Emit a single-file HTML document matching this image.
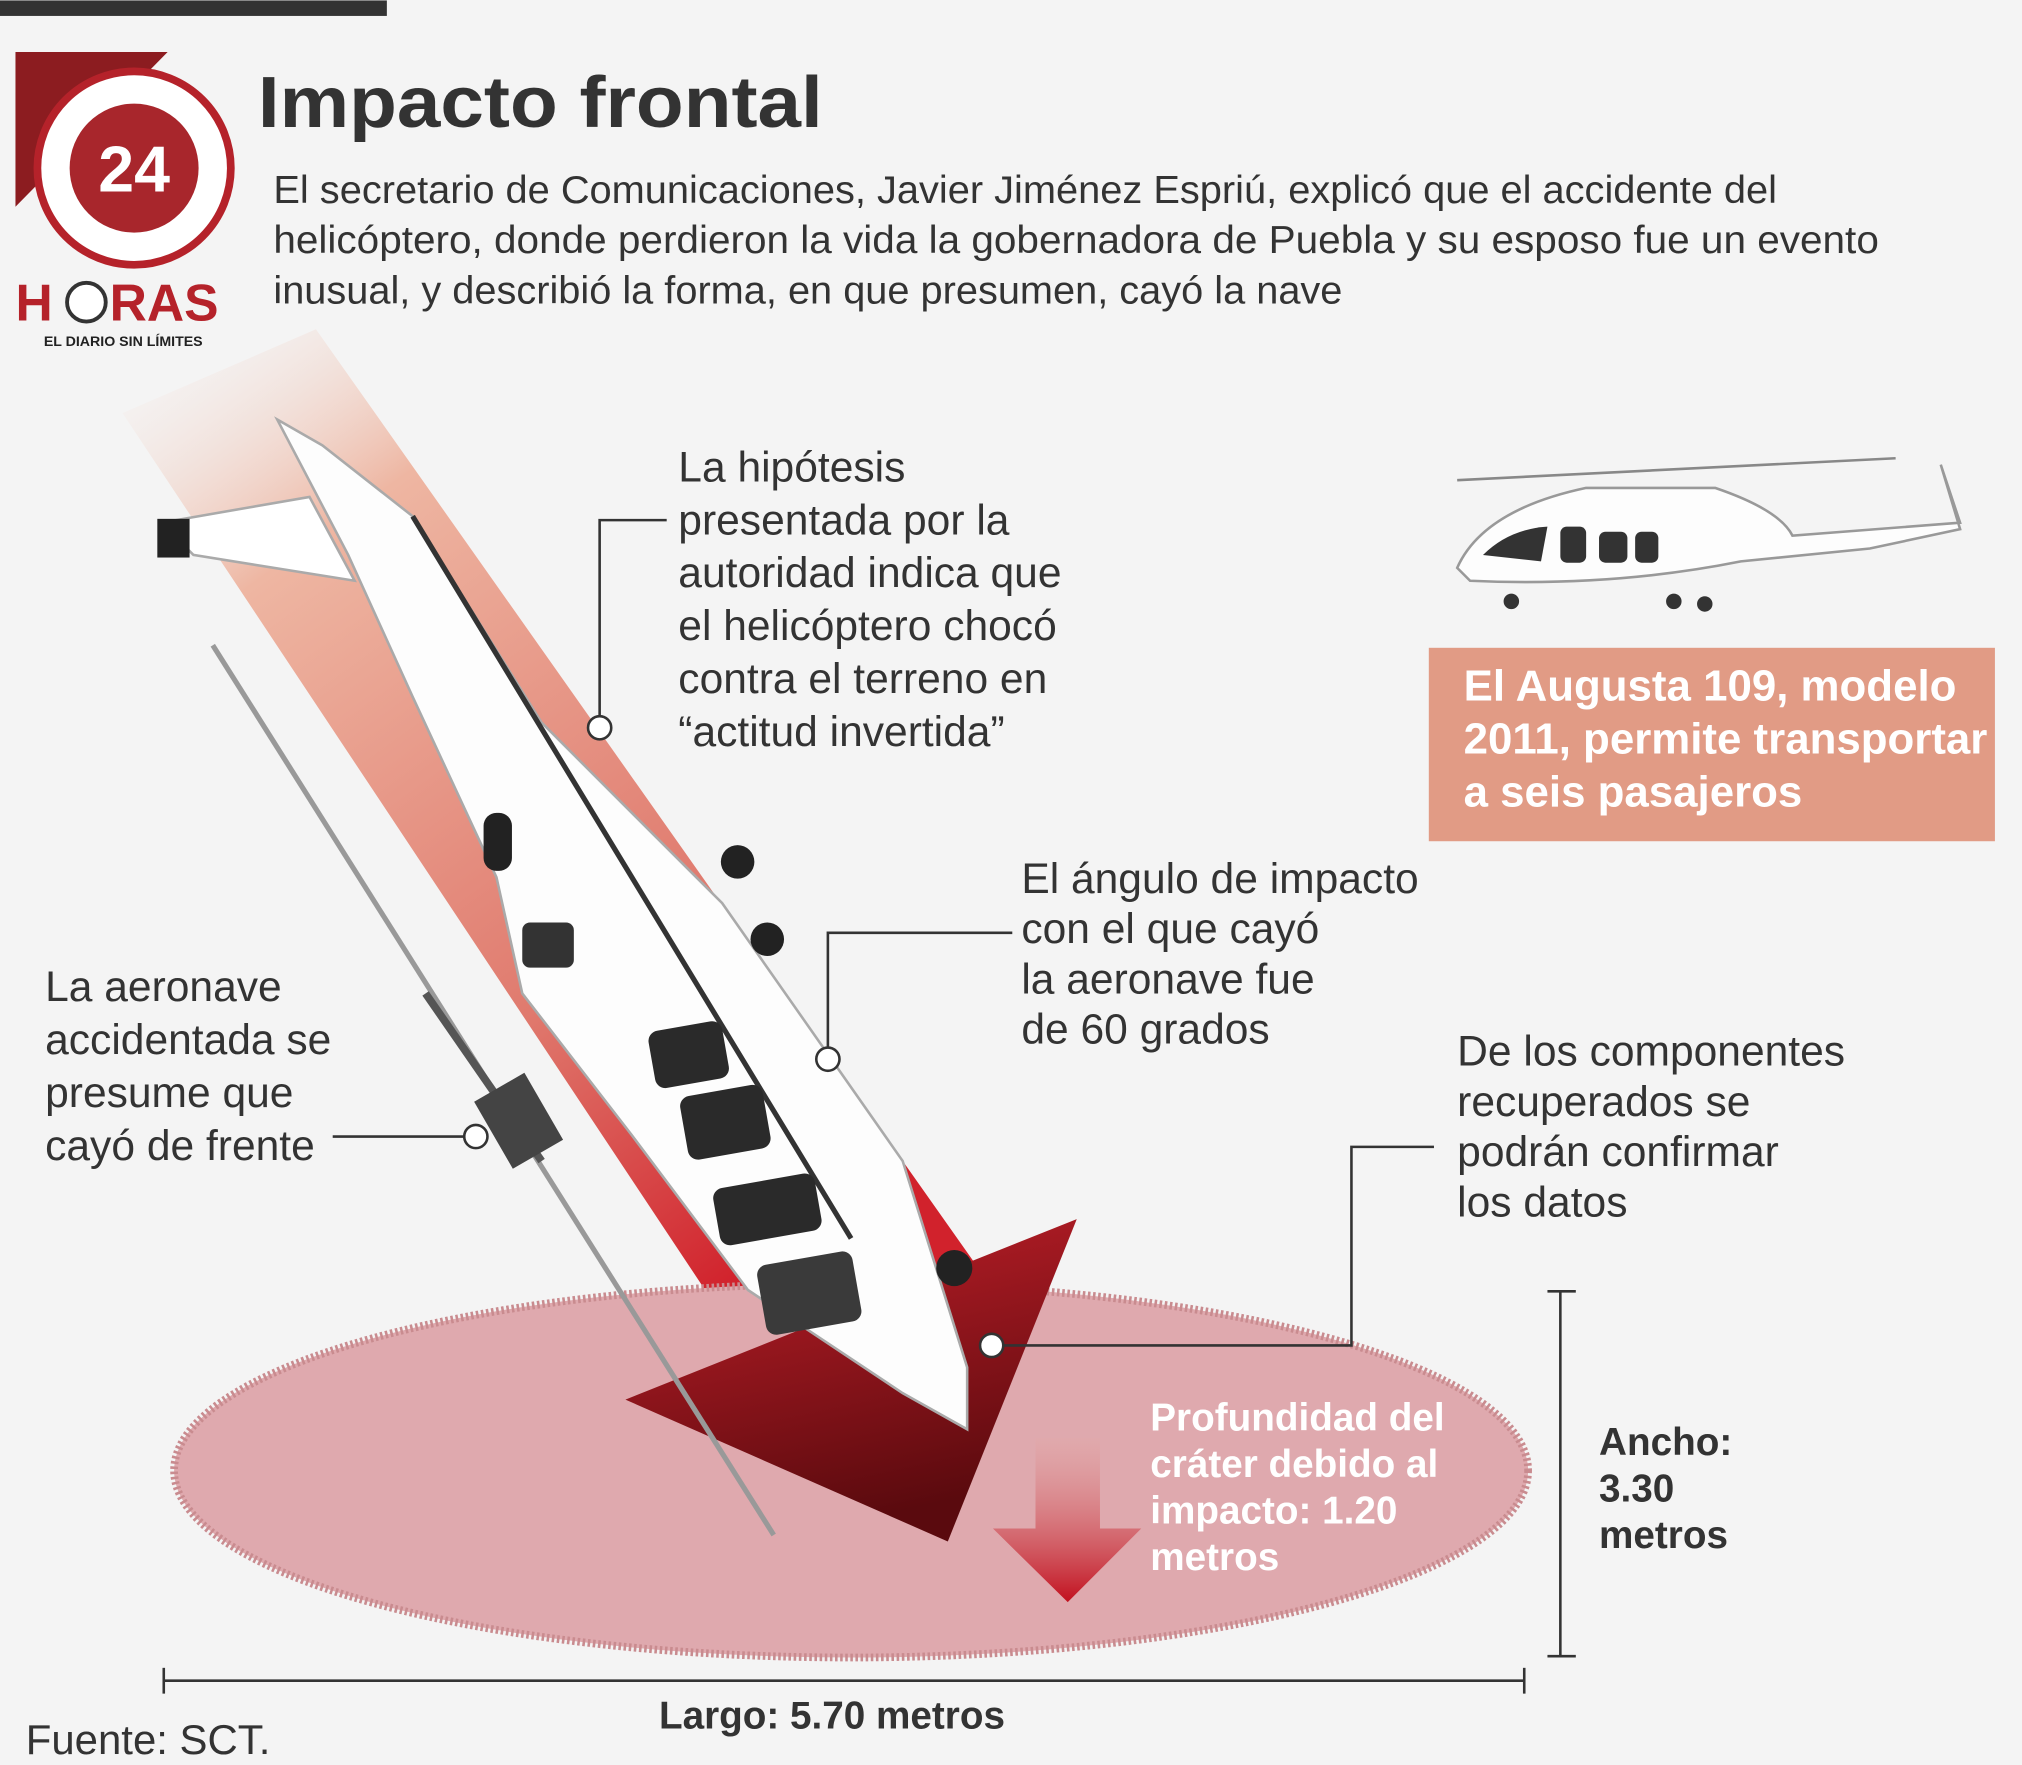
<!DOCTYPE html>
<html><head><meta charset="utf-8"><style>
html,body{margin:0;padding:0;background:#f4f4f4;}
svg{display:block;}
text{font-family:"Liberation Sans",sans-serif;}
</style></head><body>
<svg width="2022" height="1765" viewBox="0 0 1568 1368" xmlns="http://www.w3.org/2000/svg">
<defs>
<linearGradient id="band" x1="0" y1="0" x2="0.6" y2="1">
<stop offset="0" stop-color="#f4f4f4" stop-opacity="0"/>
<stop offset="0.25" stop-color="#eeb6a2"/>
<stop offset="0.7" stop-color="#e07a6e"/>
<stop offset="1" stop-color="#d1222c"/>
</linearGradient>
<linearGradient id="head" x1="0" y1="0" x2="0.3" y2="1">
<stop offset="0" stop-color="#c4202a"/>
<stop offset="1" stop-color="#5a0a0e"/>
</linearGradient>
<linearGradient id="down" x1="0" y1="0" x2="0" y2="1">
<stop offset="0" stop-color="#e3a9a8" stop-opacity="0.3"/>
<stop offset="1" stop-color="#c2101e"/>
</linearGradient>
</defs>
<rect width="1568" height="1368" fill="#f4f4f4"/>
<rect x="0" y="0" width="300" height="12" fill="#333"/>

<!-- logo -->
<polygon points="12,40 130,40 12,160" fill="#8c1c20"/>
<circle cx="104" cy="130" r="75" fill="#fff" stroke="#b5222a" stroke-width="6"/>
<circle cx="104" cy="130" r="50" fill="#a8262c"/>
<text x="104" y="148" font-size="50" font-weight="bold" fill="#fff" text-anchor="middle" font-family="Liberation Serif">24</text>
<text x="12" y="248" font-size="40" font-weight="bold" fill="#b5222a" font-family="Liberation Serif">H</text>
<circle cx="67" cy="234" r="15" fill="#fff" stroke="#333" stroke-width="3"/>
<text x="85" y="248" font-size="40" font-weight="bold" fill="#b5222a" font-family="Liberation Serif">RAS</text>
<text x="34" y="268" font-size="11" font-weight="bold" fill="#222">EL DIARIO SIN LÍMITES</text>

<text x="200" y="98" font-size="56" font-weight="bold" fill="#333" textLength="438" lengthAdjust="spacingAndGlyphs">Impacto frontal</text>
<g font-size="30" fill="#333">
<text x="212" y="157" textLength="1166" lengthAdjust="spacingAndGlyphs">El secretario de Comunicaciones, Javier Jiménez Espriú, explicó que el accidente del</text>
<text x="212" y="196" textLength="1245" lengthAdjust="spacingAndGlyphs">helicóptero, donde perdieron la vida la gobernadora de Puebla y su esposo fue un evento</text>
<text x="212" y="235" textLength="829" lengthAdjust="spacingAndGlyphs">inusual, y describió la forma, en que presumen, cayó la nave</text>
</g>

<!-- band -->
<polygon points="95,320 245,255 760,985 580,1050" fill="url(#band)"/>

<!-- crater -->
<ellipse cx="660" cy="1140" rx="525" ry="145" fill="#dfa9ae" stroke="#c98b8f" stroke-width="6" stroke-dasharray="2,2"/>
<polygon points="485,1085 835,945 735,1195" fill="url(#head)"/>

<!-- rotor blade -->
<line x1="165" y1="500" x2="600" y2="1190" stroke="#999" stroke-width="4"/>
<line x1="330" y1="770" x2="420" y2="900" stroke="#555" stroke-width="6"/>

<!-- helicopter body -->
<g>
<polygon points="215,325 250,345 320,400 420,560 560,700 700,900 750,1060 750,1108 700,1080 580,1000 490,880 405,770 385,680 320,540 270,430" fill="#fdfdfd" stroke="#aaa" stroke-width="2"/>
<polygon points="125,405 240,385 275,450 150,430" fill="#fff" stroke="#aaa" stroke-width="2"/>
<rect x="122" y="402" width="25" height="30" fill="#222"/>
<path d="M320,400 L660,960" stroke="#333" stroke-width="4" fill="none"/>
<rect x="505" y="795" width="58" height="45" rx="8" fill="#2a2a2a" transform="rotate(-10 534 817)"/>
<rect x="530" y="845" width="65" height="50" rx="8" fill="#2a2a2a" transform="rotate(-10 562 870)"/>
<rect x="555" y="915" width="80" height="45" rx="8" fill="#2a2a2a" transform="rotate(-10 595 937)"/>
<rect x="590" y="975" width="75" height="55" rx="8" fill="#3a3a3a" transform="rotate(-10 627 1002)"/>
<rect x="375" y="630" width="22" height="45" rx="10" fill="#222"/>
<rect x="405" y="715" width="40" height="35" rx="6" fill="#333"/>
<circle cx="572" cy="668" r="13" fill="#222"/>
<circle cx="595" cy="728" r="13" fill="#222"/>
<circle cx="740" cy="983" r="14" fill="#222"/>
<rect x="380" y="840" width="45" height="60" fill="#444" transform="rotate(-30 400 870)"/>
</g>

<!-- labels -->
<g font-size="33" fill="#333">
<text x="526" y="373">La hipótesis</text>
<text x="526" y="414">presentada por la</text>
<text x="526" y="455">autoridad indica que</text>
<text x="526" y="496">el helicóptero chocó</text>
<text x="526" y="537">contra el terreno en</text>
<text x="526" y="578">“actitud invertida”</text>
<text x="792" y="692">El ángulo de impacto</text>
<text x="792" y="731">con el que cayó</text>
<text x="792" y="770">la aeronave fue</text>
<text x="792" y="809">de 60 grados</text>
<text x="35" y="776">La aeronave</text>
<text x="35" y="817">accidentada se</text>
<text x="35" y="858">presume que</text>
<text x="35" y="899">cayó de frente</text>
<text x="1130" y="826">De los componentes</text>
<text x="1130" y="865">recuperados se</text>
<text x="1130" y="904">podrán confirmar</text>
<text x="1130" y="943">los datos</text>
</g>
<g stroke="#333" stroke-width="2" fill="none">
<polyline points="517,403 465,403 465,555"/>
<polyline points="785,723 642,723 642,812"/>
<polyline points="258,881 360,881"/>
<polyline points="1112,889 1048,889 1048,1043 778,1043"/>
</g>
<g fill="#fff" stroke="#333" stroke-width="2">
<circle cx="465" cy="564" r="9"/>
<circle cx="642" cy="821" r="9"/>
<circle cx="369" cy="881" r="9"/>
<circle cx="769" cy="1043" r="9"/>
</g>

<!-- small helicopter -->
<g>
<line x1="1130" y1="372" x2="1470" y2="355" stroke="#888" stroke-width="2"/>
<path d="M1130,440 Q1150,395 1230,378 L1330,378 Q1380,395 1390,415 L1520,405 L1505,360 L1520,410 L1450,425 L1350,435 Q1250,455 1140,450 Z" fill="#fdfdfd" stroke="#999" stroke-width="2"/>
<rect x="1210" y="408" width="20" height="28" rx="5" fill="#333"/>
<rect x="1240" y="412" width="22" height="24" rx="5" fill="#333"/>
<rect x="1268" y="412" width="18" height="24" rx="5" fill="#333"/>
<path d="M1150,430 Q1170,410 1200,408 L1195,435 Z" fill="#333"/>
<circle cx="1172" cy="466" r="6" fill="#333"/>
<circle cx="1298" cy="466" r="6" fill="#333"/>
<circle cx="1322" cy="468" r="6" fill="#333"/>
</g>
<rect x="1108" y="502" width="439" height="150" fill="#e19b85"/>
<g font-size="34" font-weight="bold" fill="#fff">
<text x="1135" y="543">El Augusta 109, modelo</text>
<text x="1135" y="584">2011, permite transportar</text>
<text x="1135" y="625">a seis pasajeros</text>
</g>

<!-- down arrow -->
<polygon points="803,1115 853,1115 853,1185 885,1185 828,1242 770,1185 803,1185" fill="url(#down)"/>
<g font-size="30" font-weight="bold" fill="#fff">
<text x="892" y="1109">Profundidad del</text>
<text x="892" y="1145">cráter debido al</text>
<text x="892" y="1181">impacto: 1.20</text>
<text x="892" y="1217">metros</text>
</g>

<!-- dims -->
<g stroke="#333" stroke-width="2">
<line x1="1210" y1="1000" x2="1210" y2="1285"/>
<line x1="1200" y1="1001" x2="1222" y2="1001"/>
<line x1="1200" y1="1284" x2="1222" y2="1284"/>
<line x1="127" y1="1303" x2="1182" y2="1303"/>
<line x1="127" y1="1293" x2="127" y2="1313"/>
<line x1="1182" y1="1293" x2="1182" y2="1313"/>
</g>
<g font-size="30" font-weight="bold" fill="#333">
<text x="1240" y="1128">Ancho:</text>
<text x="1240" y="1164">3.30</text>
<text x="1240" y="1200">metros</text>
<text x="511" y="1340">Largo: 5.70 metros</text>
</g>
<text x="20" y="1360" font-size="32.5" fill="#333">Fuente: SCT.</text>
</svg>
</body></html>
